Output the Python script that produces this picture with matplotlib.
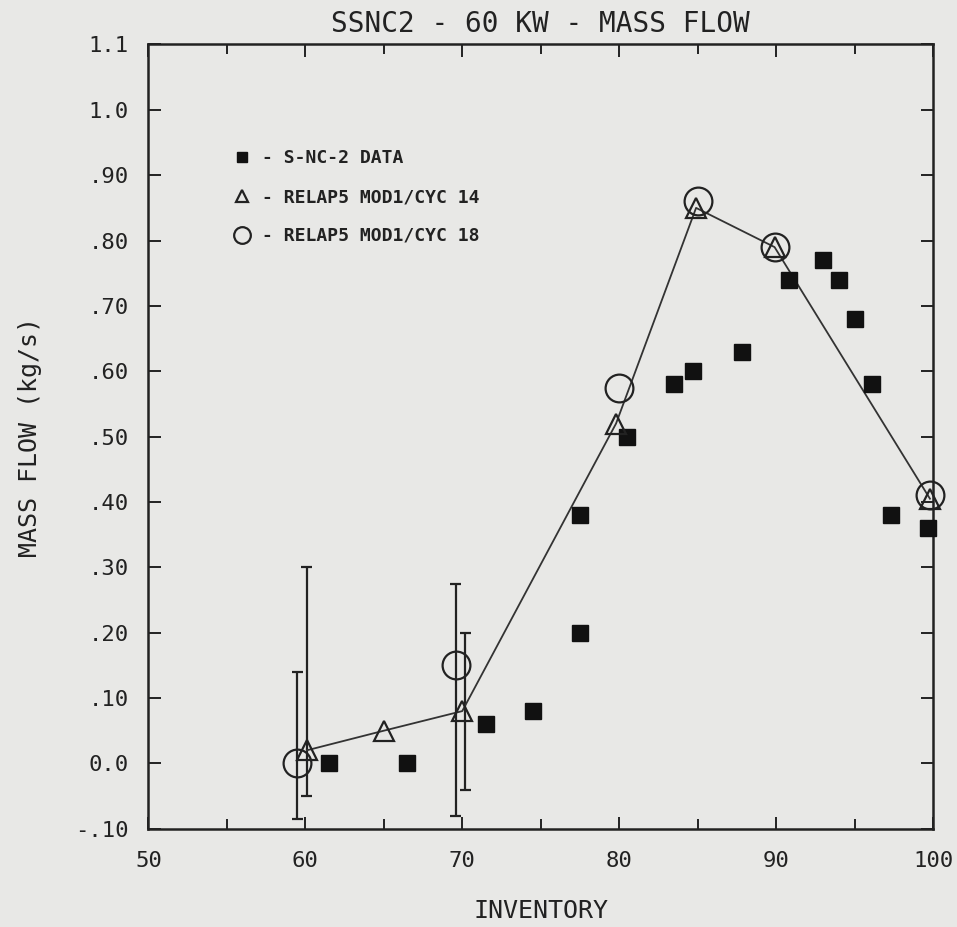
import matplotlib
matplotlib.use("Agg")
import matplotlib.pyplot as plt

# S-NC-2 measured data
data_x = [61.5, 66.5, 71.5, 74.5, 77.5, 77.5, 80.5, 83.5, 84.7, 87.8, 90.8, 93.0, 94.0, 95.0, 96.1, 97.3, 99.7]
data_y = [0.00, 0.00, 0.06, 0.08, 0.38, 0.20, 0.50, 0.58, 0.60, 0.63, 0.74, 0.77, 0.74, 0.68, 0.58, 0.38, 0.36]

# RELAP5 MOD1 / cycle 14 (connected)
c14_x = [60.1, 65.0, 70.0, 79.8, 84.9, 89.9, 99.8]
c14_y = [0.02, 0.05, 0.08, 0.52, 0.85, 0.79, 0.405]

# RELAP5 MOD1 / cycle 18
c18_x = [59.5, 69.6, 80.0, 85.0, 89.9, 99.8]
c18_y = [0.00, 0.15, 0.575, 0.86, 0.79, 0.41]

# uncertainty bars (x, low, high)
eb_x = [59.5, 60.1, 69.6, 70.2]
eb_lo = [-0.085, -0.05, -0.08, -0.04]
eb_hi = [0.14, 0.30, 0.275, 0.20]

yticks = [-0.10, 0.0, 0.10, 0.20, 0.30, 0.40, 0.50, 0.60, 0.70, 0.80, 0.90, 1.0, 1.1]
ytick_labels = ["-.10", "0.0", ".10", ".20", ".30", ".40", ".50", ".60", ".70", ".80", ".90", "1.0", "1.1"]
xticks = [50, 60, 70, 80, 90, 100]

BG = "#e8e8e6"
INK = "#222222"
FONT = "DejaVu Sans Mono"

fig = plt.figure(figsize=(9.57, 9.27), dpi=100, facecolor=BG)
ax = fig.add_axes([0.155, 0.106, 0.820, 0.846], facecolor=BG)

for x, lo, hi in zip(eb_x, eb_lo, eb_hi):
    ax.vlines(x, lo, hi, color=INK, lw=1.6)
    ax.hlines([lo, hi], x - 0.35, x + 0.35, color=INK, lw=1.6)

ax.plot(c14_x, c14_y, "-", color="#333333", lw=1.3, zorder=2)
ax.plot(data_x, data_y, "s", ms=12, color="#111111", ls="none", zorder=3,
        clip_on=False, label="- S-NC-2 DATA")
ax.plot(c14_x, c14_y, "^", ms=15, mfc="none", mec=INK, mew=1.6, ls="none", zorder=4,
        clip_on=False, label="- RELAP5 MOD1/CYC 14")
ax.plot(c18_x, c18_y, "o", ms=20, mfc="none", mec=INK, mew=1.6, ls="none", zorder=4,
        clip_on=False, label="- RELAP5 MOD1/CYC 18")

ax.set_xlim(50, 100)
ax.set_ylim(-0.10, 1.1)
ax.set_xticks(xticks)
ax.set_xticks(range(50, 101, 5), minor=True)
ax.set_yticks(yticks)
ax.set_yticklabels(ytick_labels)
ax.tick_params(which="both", direction="in", top=True, right=True, width=1.4,
               labelsize=16, colors=INK)
ax.tick_params(axis="y", pad=14)
ax.tick_params(axis="x", pad=16)
ax.tick_params(which="major", length=9)
ax.tick_params(which="minor", length=7)
for lab in ax.get_xticklabels() + ax.get_yticklabels():
    lab.set_family(FONT)
for s in ax.spines.values():
    s.set_linewidth(1.8)
    s.set_color(INK)

leg = ax.legend(loc="upper left", bbox_to_anchor=(0.085, 0.887), frameon=False,
                handletextpad=0.5, handlelength=1.2, labelspacing=1.15, markerscale=0.6,
                prop={"family": FONT, "size": 13, "weight": "bold"})
for t in leg.get_texts():
    t.set_color(INK)

ax.set_title("SSNC2 - 60 KW - MASS FLOW", family=FONT, fontsize=20, pad=9, color=INK)
ax.set_xlabel("INVENTORY", family=FONT, fontsize=18, labelpad=20, color=INK)
ax.set_ylabel("MASS FLOW (kg/s)", family=FONT, fontsize=18, labelpad=24, color=INK)

fig.savefig("out.png", dpi=100, facecolor=BG)
